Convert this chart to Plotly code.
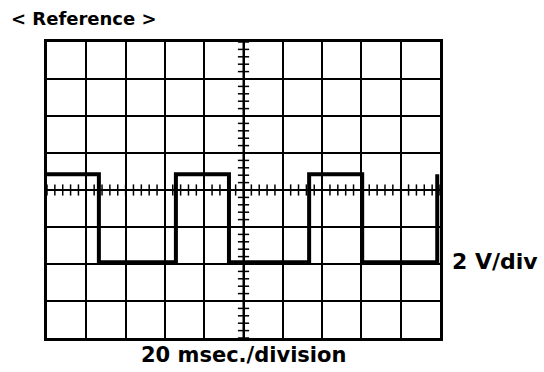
import numpy as np
import plotly.graph_objects as go

# Waveform (time in ms, voltage in V), 20 ms/div, 2 V/div
time_ms = [0, 26.4, 65.6, 92.6, 133.4, 160.4, 198.6]
volts = [0.85, -3.9, 0.85, -3.9, 0.85, -3.9, 0.85]

x_range = [0, 200]
y_range = [-8, 8]

fig = go.Figure()

# Graticule minor ticks on center lines
tick_x = np.arange(0, 200.01, 4)
tick_y = np.arange(-8, 8.01, 0.4)
fig.add_trace(go.Scatter(x=tick_x, y=np.zeros_like(tick_x), mode="markers",
                         marker=dict(symbol="line-ns-open", size=8, color="black",
                                     line=dict(width=1.5, color="black")),
                         hoverinfo="skip", showlegend=False))
fig.add_trace(go.Scatter(x=np.full_like(tick_y, 100), y=tick_y, mode="markers",
                         marker=dict(symbol="line-ew-open", size=8, color="black",
                                     line=dict(width=1.5, color="black")),
                         hoverinfo="skip", showlegend=False))

# Waveform
fig.add_trace(go.Scatter(x=time_ms, y=volts, mode="lines",
                         line=dict(shape="hv", color="black", width=4),
                         showlegend=False, cliponaxis=False))

fig.update_xaxes(range=x_range, dtick=20, tick0=0, showgrid=True, gridcolor="black",
                 gridwidth=1.5, showticklabels=False, ticks="",
                 showline=True, linecolor="black", linewidth=3, mirror=True,
                 zeroline=False)
fig.update_yaxes(range=y_range, dtick=2, tick0=0, showgrid=True, gridcolor="black",
                 gridwidth=2, showticklabels=False, ticks="",
                 showline=True, linecolor="black", linewidth=3, mirror=True,
                 zeroline=False)

# Center lines thicker
fig.add_shape(type="line", x0=100, x1=100, y0=-8, y1=8, line=dict(color="black", width=2), layer="below")
fig.add_shape(type="line", x0=0, x1=200, y0=0, y1=0, line=dict(color="black", width=2), layer="below")

font = dict(family="DejaVu Sans", color="black", weight="bold")
fig.add_annotation(text="&lt; Reference &gt;", xref="paper", yref="paper", x=-0.097, y=1.079,
                   xanchor="left", yanchor="middle", showarrow=False, font=dict(size=18, **font))
fig.add_annotation(text="2 V/div", xref="paper", yref="paper", x=1.026, y=0.257,
                   xanchor="left", yanchor="middle", showarrow=False, font=dict(size=22, **font))
fig.add_annotation(text="20 msec./division", xref="paper", yref="paper", x=0.501, y=-0.056,
                   xanchor="center", yanchor="middle", showarrow=False, font=dict(size=21, **font))

fig.update_layout(width=544, height=372, margin=dict(l=47, r=104, t=42, b=34),
                  paper_bgcolor="white", plot_bgcolor="white")

fig.write_html("out.html")
